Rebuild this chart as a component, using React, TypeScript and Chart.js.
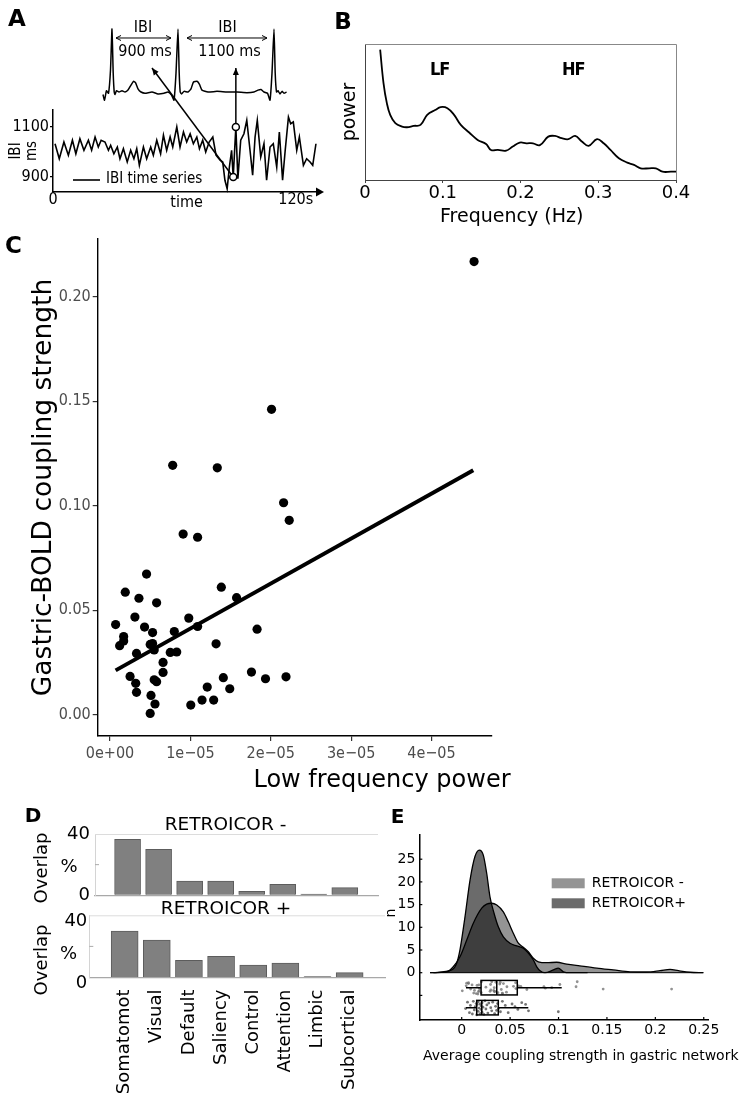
import React, { useEffect, useRef } from "react";
import { Chart, registerables } from "chart.js";

Chart.register(...registerables);
Chart.defaults.font.family = "'DejaVu Sans', sans-serif";
Chart.defaults.color = "#000";

const SANS = "'DejaVu Sans', sans-serif";
const COND = "'DejaVu Sans Condensed', 'DejaVu Sans', sans-serif";

// ---------------- Panel A : IBI time series + ECG schematic ----------------
const IBI_TIME_S = [1.0, 3.1, 5.4, 7.6, 9.6, 11.3, 13.3, 15.3, 17.5, 19.1, 20.8, 22.4, 23.8, 25.7, 27.4, 28.5, 30.1, 31.8, 33.1, 34.8, 36.7, 38.4, 40.0, 41.4, 42.7, 44.7, 46.3, 48.3, 49.6, 51.3, 53.2, 54.6, 56.2, 57.9, 59.2, 61.2, 62.8, 64.5, 66.1, 67.8, 69.4, 71.1, 72.4, 74.0, 75.5, 77.2, 79.0, 80.6, 82.6, 83.9, 85.0, 86.1, 87.2, 88.3, 89.1, 90.4, 91.4, 92.8, 94.4, 95.8, 97.4, 98.7, 99.9, 101.0, 102.7, 104.3, 105.6, 107.3, 108.9, 110.6, 111.9, 113.5, 114.8, 116.4, 117.5, 118.8, 120.5, 121.8, 123.8, 125.4, 127.1, 128.4, 130.0];
const IBI_MS = [1033, 973, 1040, 987, 1047, 993, 1053, 1007, 1047, 1007, 1060, 1020, 1047, 1040, 1007, 1027, 993, 1020, 973, 1013, 960, 1007, 973, 1013, 947, 1020, 973, 1020, 987, 1047, 993, 1067, 1007, 1060, 1020, 1100, 1020, 1080, 1040, 1073, 1033, 1060, 1013, 1047, 1000, 1040, 1060, 987, 967, 960, 887, 853, 940, 1007, 900, 1100, 893, 1047, 1073, 1127, 1007, 907, 1060, 1127, 980, 1033, 887, 1020, 1033, 940, 1080, 887, 1007, 1140, 1113, 1120, 1007, 1060, 947, 973, 960, 947, 1033];
const IBI_SERIES_LABEL = "IBI time series";
const ECG_TIME_MS = [-90, -75, -55, -35, -15, 0, 12, 22, 30, 45, 70, 100, 130, 160, 190, 215, 235, 260, 290, 330, 400, 460, 520, 560, 595, 620, 640, 660, 672, 682, 695, 720, 760, 790, 815, 850, 875, 900, 960, 1050, 1150, 1250, 1350, 1420, 1460, 1490, 1520, 1555, 1580, 1600, 1620, 1632, 1645, 1660, 1680, 1700, 1720, 1745];
const ECG_AMPLITUDE = [-0.04, -0.13, 0.02, -0.02, 0.35, 1.0, 0.3, 0.0, -0.04, 0.02, 0.0, 0.02, 0.0, 0.03, 0.11, 0.17, 0.15, 0.05, 0.0, -0.02, 0.0, -0.03, -0.02, 0.0, -0.05, -0.13, 0.3, 1.0, 0.3, 0.0, -0.03, 0.01, 0.0, 0.05, 0.16, 0.17, 0.12, 0.03, 0.0, 0.01, 0.0, 0.0, -0.01, 0.0, 0.03, 0.04, 0.0, -0.02, -0.13, 0.3, 1.0, 0.3, 0.0, 0.02, -0.03, 0.01, -0.02, 0.0];
const MARKED_TIME_S = [89.1, 90.4];
const MARKED_IBI_MS = [900, 1100];
const IBI_TICKS = [900, 1100];
const TIME_TICKS = [0, 120];
const TIME_TICK_LABELS = ["0", "120s"];
const ECG_IBI_LABELS = ["900 ms", "1100 ms"];
const ECG_IBI_START_MS = [40, 750];
const ECG_IBI_END_MS = [590, 1550];
const ECG_IBI_CENTER_MS = [310, 1155];
const ARROW_TARGET_ECG_MS = 400;

// ---------------- Panel B : power spectrum ----------------
const FREQ_HZ = [0.0195, 0.0238, 0.0281, 0.0324, 0.039, 0.0476, 0.054, 0.0627, 0.0714, 0.080, 0.0908, 0.0973, 0.106, 0.1146, 0.1232, 0.134, 0.1449, 0.1557, 0.162, 0.171, 0.1816, 0.190, 0.199, 0.2076, 0.216, 0.2249, 0.2357, 0.2443, 0.253, 0.2616, 0.2703, 0.2789, 0.2876, 0.2984, 0.307, 0.3157, 0.3265, 0.3373, 0.346, 0.3546, 0.3654, 0.3741, 0.3827, 0.3935, 0.40];
const POWER = [0.958, 0.713, 0.565, 0.479, 0.418, 0.393, 0.388, 0.398, 0.405, 0.479, 0.516, 0.536, 0.528, 0.479, 0.405, 0.349, 0.295, 0.265, 0.221, 0.221, 0.216, 0.246, 0.275, 0.270, 0.270, 0.256, 0.319, 0.324, 0.307, 0.300, 0.324, 0.283, 0.251, 0.300, 0.270, 0.221, 0.160, 0.128, 0.111, 0.086, 0.086, 0.086, 0.061, 0.061, 0.061];
const FREQ_TICKS = [0, 0.1, 0.2, 0.3, 0.4];
const FREQ_TICK_LABELS = ["0", "0.1", "0.2", "0.3", "0.4"];
const BAND_LABELS = ["LF", "HF"];
const BAND_CENTER_HZ = [0.096, 0.268];
const BAND_LABEL_POWER = 0.81;

// ---------------- Panel C : scatter ----------------
const LF_POWER = [0.07e-5, 0.12e-5, 0.19e-5, 0.17e-5, 0.17e-5, 0.25e-5, 0.32e-5, 0.33e-5, 0.31e-5, 0.33e-5, 0.36e-5, 0.455e-5, 0.43e-5, 0.53e-5, 0.50e-5, 0.53e-5, 0.55e-5, 0.58e-5, 0.55e-5, 0.58e-5, 0.51e-5, 0.56e-5, 0.50e-5, 0.66e-5, 0.66e-5, 0.75e-5, 0.83e-5, 0.80e-5, 0.91e-5, 0.98e-5, 1.005e-5, 1.09e-5, 1.09e-5, 1.145e-5, 1.21e-5, 1.29e-5, 1.32e-5, 1.385e-5, 1.41e-5, 1.49e-5, 1.575e-5, 1.76e-5, 1.83e-5, 1.935e-5, 2.16e-5, 2.23e-5, 2.19e-5, 0.78e-5, 1.335e-5, 2.01e-5, 4.53e-5];
const COUPLING = [0.0431, 0.033, 0.0586, 0.0374, 0.0353, 0.0183, 0.015, 0.0107, 0.0467, 0.0293, 0.0557, 0.0673, 0.0419, 0.0393, 0.0336, 0.034, 0.031, 0.0535, 0.0167, 0.0158, 0.0092, 0.0051, 0.0006, 0.025, 0.0202, 0.0298, 0.03, 0.0398, 0.0864, 0.0462, 0.0046, 0.0849, 0.0422, 0.007, 0.0132, 0.007, 0.0339, 0.061, 0.0177, 0.0124, 0.056, 0.0204, 0.0409, 0.0172, 0.1014, 0.093, 0.0181, 0.1193, 0.1181, 0.1461, 0.2168];
const FIT_X = [0.07e-5, 4.52e-5];
const FIT_Y = [0.0212, 0.117];
const C_X_TICKS = [0, 1e-5, 2e-5, 3e-5, 4e-5];
const C_X_TICK_LABELS = ["0e+00", "1e\u221205", "2e\u221205", "3e\u221205", "4e\u221205"];
const C_Y_TICKS = [0, 0.05, 0.1, 0.15, 0.2];

// ---------------- Panel D : network overlap ----------------
const NETWORKS = ["Somatomot", "Visual", "Default", "Saliency", "Control", "Attention", "Limbic", "Subcortical"];
const OVERLAP_RETRO_MINUS = [36.5, 30.0, 9.3, 9.2, 2.6, 7.2, 0.8, 5.0];
const OVERLAP_RETRO_PLUS = [29.9, 24.1, 11.1, 13.6, 8.0, 9.3, 0.3, 3.1];
const OVERLAP_TICKS = [0, 20, 40];

// ---------------- Panel E : density + box ----------------
const DENS_MINUS_X = [-0.0327, -0.0155, -0.0087, -0.0018, 0.0052, 0.012, 0.0207, 0.0258, 0.031, 0.0362, 0.043, 0.0481, 0.0533, 0.0585, 0.0636, 0.0688, 0.074, 0.0791, 0.0878, 0.0981, 0.1085, 0.122, 0.1395, 0.1566, 0.1739, 0.191, 0.2049, 0.2152, 0.2238, 0.2359, 0.2496];
const DENS_MINUS_Y = [0, 0.2, 1.3, 3.5, 7.2, 10.9, 14.2, 15.1, 15.3, 14.9, 13.4, 11.2, 8.7, 6.5, 5.6, 4.6, 3.2, 2.4, 2.2, 2.3, 1.9, 1.5, 1.0, 0.6, 0.2, 0.15, 0.45, 0.75, 0.45, 0.1, 0];
const DENS_PLUS_X = [-0.0293, -0.0103, -0.0052, -0.0018, 0.0034, 0.0086, 0.0137, 0.0182, 0.0223, 0.0258, 0.0292, 0.0334, 0.0378, 0.043, 0.0499, 0.0568, 0.0636, 0.0688, 0.074, 0.0775, 0.0809, 0.086, 0.0946, 0.0998, 0.105, 0.112, 0.13];
const DENS_PLUS_Y = [0, 0.6, 2.07, 5.0, 12.3, 20.4, 25.6, 27.0, 25.9, 21.9, 16.7, 13.1, 10.1, 7.9, 6.5, 5.9, 5.4, 4.3, 2.8, 1.3, 0.45, 0, 0.6, 1.0, 0.2, 0, 0];
const PLUS_VALUES = [0.004, 0.006, 0.008, 0.009, 0.011, 0.012, 0.013, 0.014, 0.015, 0.0155, 0.016, 0.017, 0.017, 0.018, 0.019, 0.019, 0.020, 0.020, 0.021, 0.021, 0.022, 0.023, 0.024, 0.025, 0.026, 0.027, 0.028, 0.030, 0.031, 0.032, 0.034, 0.035, 0.036, 0.037, 0.038, 0.040, 0.042, 0.045, 0.048, 0.052, 0.055, 0.058, 0.062, 0.066, 0.069, 0.0998];
const JITTER_MINUS = [-2.4, -3.9, -2.9, -4.4, -2.1, -3.5, -4.6, -2.7, -3.1, -4.1, -2.2, -3.7, -4.5, -2.5, -3.3, -4.2, -2.0, -3.0, -4.7, -2.8, -3.6, -2.3, -4.0, -3.2, -4.4, -2.6, -3.8, -2.1, -3.4, -4.3, -2.9, -3.1, -4.6, -2.4, -3.9, -2.2, -4.1, -3.0, -2.7, -4.5, -3.5, -2.0, -3.7, -4.2, -2.6, -3.3, -4.0, -2.0, -3.1, -3.6, -3.6];
const JITTER_PLUS = [-7.9, -6.5, -8.8, -7.2, -9.1, -6.3, -8.2, -7.5, -6.8, -9.3, -7.0, -8.5, -6.4, -7.8, -9.0, -6.9, -8.1, -7.3, -6.6, -8.7, -7.6, -9.2, -6.2, -8.0, -7.1, -8.9, -6.7, -7.7, -8.4, -6.5, -9.0, -7.4, -8.3, -6.8, -7.9, -8.6, -6.3, -7.2, -8.8, -6.9, -7.5, -8.1, -6.6, -7.0, -8.4, -8.6];
const BOX_Q1 = [0.020, 0.0155];
const BOX_MEDIAN = [0.0362, 0.0207];
const BOX_Q3 = [0.0574, 0.0378];
const WHISKER_LO = [0.0044, 0.0044];
const WHISKER_HI = [0.1033, 0.0688];
const BOX_CENTER_Y = [-3.3, -7.7];
const E_X_TICKS = [0, 0.05, 0.1, 0.15, 0.2, 0.25];
const E_X_TICK_LABELS = ["0", "0.05", "0.1", "0.15", "0.2", "0.25"];
const E_Y_TICKS = [-10, -5, 0, 5, 10, 15, 20, 25];
const GROUP_LABELS = ["RETROICOR -", "RETROICOR+"];

// ---------------- helpers ----------------
type Txt = { t: string; x: number; y: number; font: string; color?: string; align?: CanvasTextAlign; rot?: number; base?: CanvasTextBaseline; spacing?: string };
function textPlugin(id: string, items: Txt[]) {
  return {
    id,
    afterDraw(chart: any) {
      const ctx = chart.ctx as CanvasRenderingContext2D;
      for (const it of items) {
        ctx.save();
        ctx.translate(it.x, it.y);
        if (it.rot) ctx.rotate(it.rot);
        ctx.font = it.font;
        (ctx as any).letterSpacing = it.spacing || "0px";
        ctx.fillStyle = it.color || "#000";
        ctx.textAlign = it.align || "center";
        ctx.textBaseline = it.base || "middle";
        ctx.fillText(it.t, 0, 0);
        ctx.restore();
      }
    },
  };
}

type TickSpec = { scaleId: string; values: number[]; len: number; color: string; width: number };
function inwardTicks(id: string, specs: TickSpec[]) {
  return {
    id,
    afterDraw(chart: any) {
      const ctx = chart.ctx as CanvasRenderingContext2D;
      const ca = chart.chartArea;
      for (const s of specs) {
        const sc = chart.scales[s.scaleId];
        ctx.save();
        ctx.strokeStyle = s.color;
        ctx.lineWidth = s.width;
        for (const v of s.values) {
          const p = sc.getPixelForValue(v);
          ctx.beginPath();
          if (sc.isHorizontal()) {
            ctx.moveTo(p, ca.bottom);
            ctx.lineTo(p, ca.bottom - s.len);
          } else {
            ctx.moveTo(ca.left, p);
            ctx.lineTo(ca.left + s.len, p);
          }
          ctx.stroke();
        }
        ctx.restore();
      }
    },
  };
}

const fixTicks = (values: number[]) => (s: any) => {
  s.ticks = values.map((v) => ({ value: v }));
};
const fixWidth = (w: number) => (s: any) => {
  s.width = w;
  s.paddingTop = 0;
  s.paddingBottom = 0;
  s.paddingLeft = 0;
  s.paddingRight = 0;
};
const fixHeight = (h: number) => (s: any) => {
  s.height = h;
  s.paddingTop = 0;
  s.paddingBottom = 0;
  s.paddingLeft = 0;
  s.paddingRight = 0;
};

function openHead(ctx: CanvasRenderingContext2D, fx: number, fy: number, tx: number, ty: number, len: number, half: number) {
  const a = Math.atan2(ty - fy, tx - fx);
  const bx = tx - len * Math.cos(a);
  const by = ty - len * Math.sin(a);
  ctx.beginPath();
  ctx.moveTo(bx + half * Math.sin(a), by - half * Math.cos(a));
  ctx.lineTo(tx, ty);
  ctx.lineTo(bx - half * Math.sin(a), by + half * Math.cos(a));
  ctx.stroke();
}

function filledHead(ctx: CanvasRenderingContext2D, fx: number, fy: number, tx: number, ty: number, len: number, half: number) {
  const a = Math.atan2(ty - fy, tx - fx);
  const bx = tx - len * Math.cos(a);
  const by = ty - len * Math.sin(a);
  ctx.beginPath();
  ctx.moveTo(bx + half * Math.sin(a), by - half * Math.cos(a));
  ctx.lineTo(tx, ty);
  ctx.lineTo(bx - half * Math.sin(a), by + half * Math.cos(a));
  ctx.closePath();
  ctx.fill();
}

// ---------------- Panel A config ----------------
const panelAPlugin = {
  id: "panelA",
  afterDatasetsDraw(chart: any) {
    const ctx = chart.ctx as CanvasRenderingContext2D;
    const ca = chart.chartArea;
    const { x, y, xe, ye } = chart.scales;
    ctx.save();
    ctx.strokeStyle = "#000";
    ctx.fillStyle = "#000";
    ctx.lineWidth = 1.5;
    filledHead(ctx, ca.right - 10, ca.bottom, ca.right + 4, ca.bottom, 8, 4.5);
    const targetY = ye.getPixelForValue(0.38);
    const starts = MARKED_TIME_S.map((t, i) => ({ x: x.getPixelForValue(t), y: y.getPixelForValue(MARKED_IBI_MS[i]) }));
    const ends = [
      { x: xe.getPixelForValue(ARROW_TARGET_ECG_MS), y: targetY },
      { x: starts[1].x, y: targetY },
    ];
    for (let i = 0; i < 2; i++) {
      const s = starts[i];
      const e = ends[i];
      const a = Math.atan2(e.y - s.y, e.x - s.x);
      const sx = s.x + 3.5 * Math.cos(a);
      const sy = s.y + 3.5 * Math.sin(a);
      ctx.beginPath();
      ctx.moveTo(sx, sy);
      ctx.lineTo(e.x, e.y);
      ctx.stroke();
      filledHead(ctx, sx, sy, e.x, e.y, 7, 3);
    }
    ctx.lineWidth = 1;
    for (let i = 0; i < 2; i++) {
      const x0 = xe.getPixelForValue(ECG_IBI_START_MS[i]);
      const x1 = xe.getPixelForValue(ECG_IBI_END_MS[i]);
      const yy = ye.getPixelForValue(0.857);
      ctx.beginPath();
      ctx.moveTo(x0, yy);
      ctx.lineTo(x1, yy);
      ctx.stroke();
      openHead(ctx, x1, yy, x0, yy, 5, 2.5);
      openHead(ctx, x0, yy, x1, yy, 5, 2.5);
      const cx = xe.getPixelForValue(ECG_IBI_CENTER_MS[i]);
      ctx.font = `16px ${COND}`;
      ctx.textAlign = "center";
      ctx.textBaseline = "middle";
      ctx.fillText("IBI", cx, ye.getPixelForValue(1.016));
      ctx.fillText(ECG_IBI_LABELS[i], cx + 2, ye.getPixelForValue(0.635));
    }
    ctx.lineWidth = 1.6;
    const ly = ca.bottom - 12;
    ctx.beginPath();
    ctx.moveTo(ca.left + 20, ly);
    ctx.lineTo(ca.left + 47, ly);
    ctx.stroke();
    ctx.font = `15px ${COND}`;
    ctx.textAlign = "left";
    ctx.fillText(chart.data.datasets[0].label, ca.left + 53, ly - 1);
    ctx.restore();
  },
};

const makeA = () => ({
  type: "line",
  data: {
    datasets: [
      { label: IBI_SERIES_LABEL, order: 1, data: IBI_TIME_S.map((t, i) => ({ x: t, y: IBI_MS[i] })), xAxisID: "x", yAxisID: "y", borderColor: "#000", borderWidth: 1.6, pointRadius: 0, tension: 0, fill: false, clip: false },
      { label: "ECG", order: 2, data: ECG_TIME_MS.map((t, i) => ({ x: t, y: ECG_AMPLITUDE[i] })), xAxisID: "xe", yAxisID: "ye", borderColor: "#000", borderWidth: 1.5, pointRadius: 0, tension: 0.15, fill: false, clip: false },
      { type: "scatter", label: "marked IBIs", order: 0, data: MARKED_TIME_S.map((t, i) => ({ x: t, y: MARKED_IBI_MS[i] })), xAxisID: "x", yAxisID: "y", pointRadius: 3.5, pointBackgroundColor: "#fff", pointBorderColor: "#000", pointBorderWidth: 1.5, clip: false },
    ],
  },
  options: {
    responsive: false, animation: false, devicePixelRatio: 1,
    layout: { padding: { left: 0, top: 110, right: 20, bottom: 0 }, autoPadding: false },
    plugins: { legend: { display: false }, tooltip: { enabled: false } },
    scales: {
      x: {
        type: "linear", min: 0, max: 132, position: "bottom",
        afterFit: fixHeight(23), afterBuildTicks: fixTicks(TIME_TICKS),
        ticks: { callback: (_v: any, i: number) => TIME_TICK_LABELS[i], font: { family: COND, size: 16, lineHeight: 1.0 }, color: "#000", padding: 0, maxRotation: 0, autoSkip: false },
        grid: { drawOnChartArea: false, drawTicks: false },
        border: { color: "#000", width: 1.5 },
        title: { display: true, text: "time", font: { family: COND, size: 16 }, color: "#000", padding: { top: 0, bottom: 3 } },
      },
      y: {
        type: "linear", min: 840, max: 1168, position: "left",
        afterFit: fixWidth(53), afterBuildTicks: fixTicks(IBI_TICKS),
        ticks: { callback: (v: any) => String(v), font: { family: COND, size: 16 }, color: "#000", padding: 1, autoSkip: false },
        grid: { drawOnChartArea: false, drawTicks: true, tickLength: 3, color: "#000", lineWidth: 1.2 },
        border: { color: "#000", width: 1.5 },
        title: { display: true, text: ["IBI", "ms"], font: { family: COND, size: 15, lineHeight: 1.05 }, color: "#000", padding: { top: 8, bottom: 0 } },
      },
      xe: { type: "linear", display: false, min: -590, max: 2080 },
      ye: { type: "linear", display: false, min: -1.587, max: -0.2857 },
    },
  },
  plugins: [panelAPlugin, textPlugin("labA", [{ t: "A", x: 17, y: 20, font: `bold 23px ${SANS}` }])],
});

// ---------------- Panel B config ----------------
const panelBPlugin = {
  id: "panelB",
  afterDraw(chart: any) {
    const ctx = chart.ctx as CanvasRenderingContext2D;
    const ca = chart.chartArea;
    const { x, y } = chart.scales;
    ctx.save();
    ctx.strokeStyle = "#888";
    ctx.lineWidth = 1;
    ctx.beginPath();
    ctx.moveTo(ca.left, ca.top + 0.5);
    ctx.lineTo(ca.right + 0.5, ca.top + 0.5);
    ctx.lineTo(ca.right + 0.5, ca.bottom);
    ctx.stroke();
    ctx.fillStyle = "#000";
    ctx.font = `bold 18px ${COND}`;
    (ctx as any).letterSpacing = "-1px";
    ctx.textAlign = "center";
    ctx.textBaseline = "middle";
    BAND_LABELS.forEach((lab, i) => ctx.fillText(lab, x.getPixelForValue(BAND_CENTER_HZ[i]), y.getPixelForValue(BAND_LABEL_POWER)));
    ctx.restore();
  },
};

const makeB = () => ({
  type: "line",
  data: { datasets: [{ label: "power", data: FREQ_HZ.map((f, i) => ({ x: f, y: POWER[i] })), borderColor: "#000", borderWidth: 1.8, pointRadius: 0, tension: 0.4, fill: false }] },
  options: {
    responsive: false, animation: false, devicePixelRatio: 1,
    layout: { padding: { left: 0, top: 44, right: 67, bottom: 0 }, autoPadding: false },
    plugins: { legend: { display: false }, tooltip: { enabled: false } },
    scales: {
      x: {
        type: "linear", min: 0, max: 0.4,
        afterFit: fixHeight(52), afterBuildTicks: fixTicks(FREQ_TICKS),
        ticks: { callback: (_v: any, i: number) => FREQ_TICK_LABELS[i], font: { family: SANS, size: 18 }, color: "#000", padding: 0, maxRotation: 0, autoSkip: false },
        grid: { drawOnChartArea: false, drawTicks: true, tickLength: 3, color: "#444" },
        border: { color: "#444", width: 1 },
      },
      y: {
        type: "linear", min: 0, max: 1,
        afterFit: fixWidth(35),
        ticks: { display: false },
        grid: { drawOnChartArea: false, drawTicks: false },
        border: { color: "#444", width: 1 },
        title: { display: true, text: "power", font: { family: SANS, size: 19 }, color: "#000", padding: { top: 8.6, bottom: 0 } },
      },
    },
  },
  plugins: [
    panelBPlugin,
    textPlugin("txtB", [
      { t: "Frequency (Hz)", x: 181.7, y: 217, font: `19px ${SANS}` },
      { t: "B", x: 13, y: 23, font: `bold 23px ${SANS}` },
    ]),
  ],
});

// ---------------- Panel C config ----------------
const makeC = () => ({
  type: "scatter",
  data: {
    datasets: [
      { type: "line", label: "fit", order: 0, data: FIT_X.map((v, i) => ({ x: v, y: FIT_Y[i] })), borderColor: "#000", borderWidth: 4, pointRadius: 0, fill: false },
      { label: "subjects", order: 1, data: LF_POWER.map((v, i) => ({ x: v, y: COUPLING[i] })), pointRadius: 4.6, pointBackgroundColor: "#000", pointBorderWidth: 0 },
    ],
  },
  options: {
    responsive: false, animation: false, devicePixelRatio: 1,
    layout: { padding: { left: 0, top: 14, right: 38, bottom: 0 }, autoPadding: false },
    plugins: { legend: { display: false }, tooltip: { enabled: false } },
    scales: {
      x: {
        type: "linear", min: -1.53e-6, max: 4.753e-5,
        afterFit: fixHeight(64), afterBuildTicks: fixTicks(C_X_TICKS),
        ticks: { callback: (_v: any, i: number) => C_X_TICK_LABELS[i], font: { family: COND, size: 16 }, color: "#4d4d4d", padding: 3, maxRotation: 0, autoSkip: false },
        grid: { drawOnChartArea: false, drawTicks: true, tickLength: 5, color: "#333", lineWidth: 1.2 },
        border: { color: "#000", width: 1.4 },
      },
      y: {
        type: "linear", min: -0.0102, max: 0.2276,
        afterFit: fixWidth(97.7), afterBuildTicks: fixTicks(C_Y_TICKS),
        ticks: { callback: (v: any) => Number(v).toFixed(2), font: { family: COND, size: 16 }, color: "#4d4d4d", padding: 2, autoSkip: false },
        grid: { drawOnChartArea: false, drawTicks: true, tickLength: 5, color: "#333", lineWidth: 1.2 },
        border: { color: "#000", width: 1.4 },
        title: { display: true, text: "Gastric-BOLD coupling strength", font: { family: SANS, size: 26.5 }, color: "#000", padding: { top: 28, bottom: 0 } },
      },
    },
  },
  plugins: [
    textPlugin("txtC", [
      { t: "Low frequency power", x: 382, y: 556, font: `24px ${SANS}` },
      { t: "C", x: 13.5, y: 22, font: `bold 23px ${SANS}` },
    ]),
  ],
});

// ---------------- Panel D config ----------------
const topLine = (color: string) => ({
  id: "topLine",
  afterDraw(chart: any) {
    const ctx = chart.ctx as CanvasRenderingContext2D;
    const ca = chart.chartArea;
    ctx.save();
    ctx.strokeStyle = color;
    ctx.lineWidth = 1;
    ctx.beginPath();
    ctx.moveTo(ca.left, ca.top + 0.5);
    ctx.lineTo(ca.right, ca.top + 0.5);
    ctx.stroke();
    ctx.restore();
  },
});

function makeD(values: number[], o: { padTop: number; padRight: number; yWidth: number; xHeight: number; xMin: number; xMax: number; bar: number; showLabels: boolean; labelOffset: number; tickPad: number; texts: Txt[] }) {
  return () => ({
    type: "bar",
    data: {
      datasets: [{ label: "Overlap %", data: NETWORKS.map((_n, i) => ({ x: i + 1, y: values[i] })), backgroundColor: "#808080", borderColor: "#5c5c5c", borderWidth: 1, barThickness: o.bar, minBarLength: 1 }],
    },
    options: {
      responsive: false, animation: false, devicePixelRatio: 1,
      layout: { padding: { left: 0, top: o.padTop, right: o.padRight, bottom: 0 }, autoPadding: false },
      plugins: { legend: { display: false }, tooltip: { enabled: false } },
      scales: {
        x: {
          type: "linear", min: o.xMin, max: o.xMax, offset: false,
          afterFit: fixHeight(o.xHeight), afterBuildTicks: fixTicks(NETWORKS.map((_n, i) => i + 1)),
          ticks: { display: o.showLabels, callback: (_v: any, i: number) => NETWORKS[i], font: { family: SANS, size: 18 }, color: "#000", padding: 12, minRotation: 90, maxRotation: 90, autoSkip: false },
          grid: { drawOnChartArea: false, drawTicks: false, offset: false },
          border: { color: "#a8a8a8", width: 1.2 },
        },
        y: {
          type: "linear", min: 0, max: 40,
          afterFit: fixWidth(o.yWidth), afterBuildTicks: fixTicks(OVERLAP_TICKS),
          ticks: { callback: (v: any) => (v === 20 ? "" : String(v)), font: { family: SANS, size: 18 }, color: "#000", padding: o.tickPad, labelOffset: o.labelOffset, autoSkip: false },
          grid: { drawOnChartArea: false, drawTicks: false },
          border: { color: "#d4d4d4", width: 1 },
        },
      },
    },
    plugins: [
      topLine("#dcdcdc"),
      inwardTicks("inD", [{ scaleId: "y", values: [20], len: 4, color: "#aaa", width: 1 }]),
      textPlugin("txtD", o.texts),
    ],
  });
}

const makeDTop = makeD(OVERLAP_RETRO_MINUS, {
  padTop: 34, padRight: 12, yWidth: 95, xHeight: 14.7, xMin: -0.05, xMax: 9.07, bar: 26, showLabels: false, labelOffset: 0, tickPad: 5,
  texts: [
    { t: "RETROICOR -", x: 225.5, y: 25, font: `18.5px ${SANS}` },
    { t: "%", x: 69, y: 67.5, font: `18px ${SANS}` },
    { t: "Overlap", x: 42, y: 68, font: `18px ${SANS}`, rot: -Math.PI / 2 },
    { t: "D", x: 33, y: 16.5, font: `bold 20px ${SANS}` },
  ],
});
const makeDBottom = makeD(OVERLAP_RETRO_PLUS, {
  padTop: 15.3, padRight: 5, yWidth: 89.3, xHeight: 121.5, xMin: -0.1, xMax: 9.1, bar: 27, showLabels: true, labelOffset: 6, tickPad: 2,
  texts: [
    { t: "RETROICOR +", x: 226, y: 9.5, font: `18.5px ${SANS}` },
    { t: "%", x: 68.5, y: 54, font: `18px ${SANS}` },
    { t: "Overlap", x: 42, y: 60, font: `18px ${SANS}`, rot: -Math.PI / 2 },
  ],
});

// ---------------- Panel E config ----------------
const panelEPlugin = {
  id: "panelE",
  afterDatasetsDraw(chart: any) {
    const ctx = chart.ctx as CanvasRenderingContext2D;
    const { x, y } = chart.scales;
    ctx.save();
    ctx.strokeStyle = "#000";
    ctx.lineWidth = 1.5;
    for (let g = 0; g < 2; g++) {
      const yc = y.getPixelForValue(BOX_CENTER_Y[g]);
      const yt = y.getPixelForValue(BOX_CENTER_Y[g] + 1.6);
      const yb = y.getPixelForValue(BOX_CENTER_Y[g] - 1.6);
      const q1 = x.getPixelForValue(BOX_Q1[g]);
      const q3 = x.getPixelForValue(BOX_Q3[g]);
      const md = x.getPixelForValue(BOX_MEDIAN[g]);
      const wl = x.getPixelForValue(WHISKER_LO[g]);
      const wh = x.getPixelForValue(WHISKER_HI[g]);
      ctx.strokeRect(q1, yt, q3 - q1, yb - yt);
      ctx.beginPath();
      ctx.moveTo(md, yt);
      ctx.lineTo(md, yb);
      ctx.moveTo(wl, yc);
      ctx.lineTo(q1, yc);
      ctx.moveTo(q3, yc);
      ctx.lineTo(wh, yc);
      ctx.stroke();
    }
    const ds = chart.data.datasets;
    ctx.font = `14px ${SANS}`;
    ctx.textAlign = "left";
    ctx.textBaseline = "middle";
    [0, 1].forEach((k) => {
      const cy = 83.3 + 20 * k;
      ctx.fillStyle = ds[k].backgroundColor;
      ctx.fillRect(171.7, cy - 5, 33, 10);
      ctx.fillStyle = "#000";
      ctx.fillText(ds[k].label, 211.7, cy);
    });
    ctx.restore();
  },
};

const makeE = () => ({
  type: "line",
  data: {
    datasets: [
      { label: GROUP_LABELS[0], order: 4, data: DENS_MINUS_X.map((v, i) => ({ x: v, y: DENS_MINUS_Y[i] })), fill: "origin", backgroundColor: "rgba(0,0,0,0.42)", borderColor: "#000", borderWidth: 1.3, pointRadius: 0, cubicInterpolationMode: "monotone" },
      { label: GROUP_LABELS[1], order: 3, data: DENS_PLUS_X.map((v, i) => ({ x: v, y: DENS_PLUS_Y[i] })), fill: "origin", backgroundColor: "rgba(0,0,0,0.58)", borderColor: "#000", borderWidth: 1.3, pointRadius: 0, cubicInterpolationMode: "monotone" },
      { label: "baseline", order: 2, data: [{ x: DENS_MINUS_X[0], y: 0 }, { x: DENS_MINUS_X[DENS_MINUS_X.length - 1], y: 0 }], borderColor: "#000", borderWidth: 1, pointRadius: 0, fill: false },
      { type: "scatter", label: "strip -", order: 1, data: COUPLING.map((v, i) => ({ x: v, y: JITTER_MINUS[i] })), pointRadius: 1.4, pointBackgroundColor: "rgba(110,110,110,0.75)", pointBorderWidth: 0 },
      { type: "scatter", label: "strip +", order: 1, data: PLUS_VALUES.map((v, i) => ({ x: v, y: JITTER_PLUS[i] })), pointRadius: 1.4, pointBackgroundColor: "rgba(80,80,80,0.8)", pointBorderWidth: 0 },
    ],
  },
  options: {
    responsive: false, animation: false, devicePixelRatio: 1,
    layout: { padding: { left: 0, top: 35, right: 34.7, bottom: 0 }, autoPadding: false },
    plugins: { legend: { display: false }, tooltip: { enabled: false } },
    scales: {
      x: {
        type: "linear", min: -0.0438, max: 0.2547,
        afterFit: fixHeight(79), afterBuildTicks: fixTicks(E_X_TICKS),
        ticks: { callback: (_v: any, i: number) => E_X_TICK_LABELS[i], font: { family: SANS, size: 14 }, color: "#000", padding: 2, maxRotation: 0, autoSkip: false },
        grid: { drawOnChartArea: false, drawTicks: false },
        border: { color: "#000", width: 1.5 },
      },
      y: {
        type: "linear", min: -10.42, max: 30.33,
        afterFit: fixWidth(39.3), afterBuildTicks: fixTicks(E_Y_TICKS),
        ticks: { callback: (v: any) => (v >= 0 ? String(v) : ""), font: { family: SANS, size: 14 }, color: "#000", padding: 4, autoSkip: false },
        grid: { drawOnChartArea: false, drawTicks: false },
        border: { color: "#000", width: 1.5 },
      },
    },
  },
  plugins: [
    panelEPlugin,
    inwardTicks("inE", [
      { scaleId: "x", values: E_X_TICKS, len: 3, color: "#000", width: 1.2 },
      { scaleId: "y", values: [-5, 0, 5, 10, 15, 20, 25], len: 3, color: "#000", width: 1.2 },
    ]),
    textPlugin("txtE", [
      { t: "n", x: 11, y: 113, font: `14px ${SANS}`, rot: -Math.PI / 2 },
      { t: "Average coupling strength in gastric network", x: 200.8, y: 256.7, font: `14px ${SANS}` },
      { t: "E", x: 17.5, y: 17.5, font: `bold 20px ${SANS}` },
    ]),
  ],
});

// ---------------- components ----------------
function ChartCanvas({ rect, config }: { rect: [number, number, number, number]; config: () => any }) {
  const ref = useRef<HTMLCanvasElement | null>(null);
  useEffect(() => {
    if (!ref.current) return;
    const chart = new Chart(ref.current, config());
    return () => chart.destroy();
  }, []);
  const [left, top, width, height] = rect;
  return <canvas ref={ref} width={width} height={height} style={{ position: "absolute", left, top, width, height }} />;
}

export default function App() {
  return (
    <div style={{ position: "absolute", left: 0, top: 0, width: 743, height: 1099, background: "#fff", overflow: "hidden" }}>
      <ChartCanvas rect={[0, 0, 340, 215]} config={makeA} />
      <ChartCanvas rect={[330, 0, 413, 232]} config={makeB} />
      <ChartCanvas rect={[0, 225, 530, 575]} config={makeC} />
      <ChartCanvas rect={[0, 900, 390, 199]} config={makeDBottom} />
      <ChartCanvas rect={[0, 800, 390, 110]} config={makeDTop} />
      <ChartCanvas rect={[380, 800, 363, 299]} config={makeE} />
    </div>
  );
}
